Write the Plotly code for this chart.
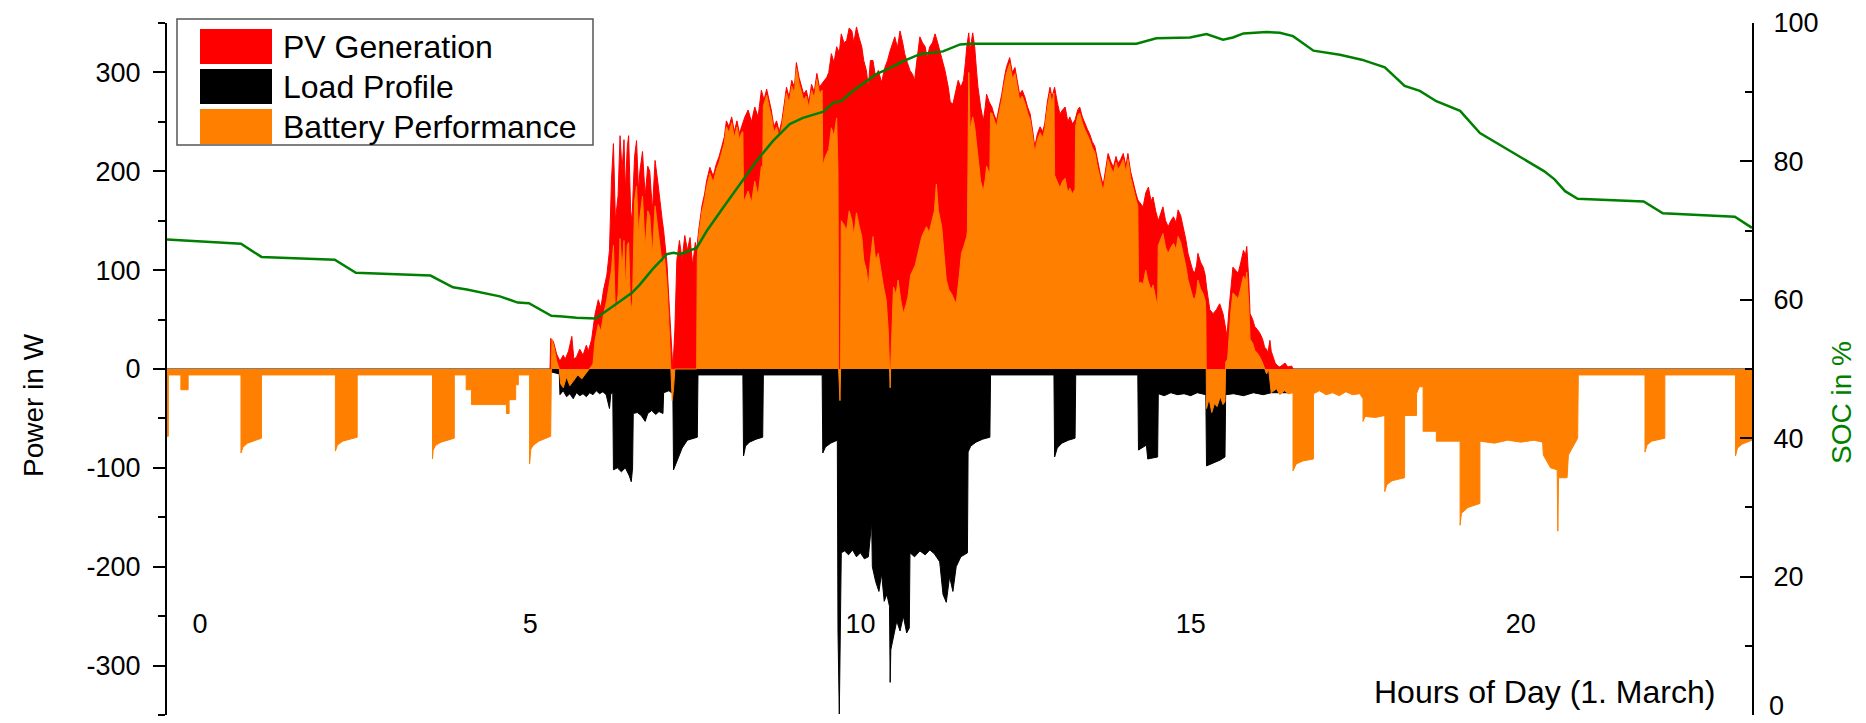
import plotly.graph_objects as go

# ---------------------------------------------------------------------------
# Data: (hour of day, value) samples
# ---------------------------------------------------------------------------
pv_samples = [
    (5.30, 0), (5.31, 31), (5.35, 28), (5.40, 15), (5.45, 8), (5.50, 14), (5.53, 10),
    (5.58, 18), (5.63, 33), (5.66, 10), (5.70, 12), (5.75, 20), (5.80, 14), (5.85, 24),
    (5.88, 18), (5.93, 30), (5.98, 55), (6.03, 70), (6.07, 62), (6.11, 80), (6.16, 95),
    (6.20, 120), (6.23, 191), (6.26, 228), (6.29, 150), (6.33, 175), (6.36, 236),
    (6.39, 200), (6.42, 232), (6.44, 180), (6.47, 225), (6.49, 236), (6.52, 160),
    (6.54, 150), (6.58, 215), (6.61, 231), (6.64, 180), (6.66, 200), (6.70, 220),
    (6.74, 175), (6.78, 205), (6.81, 200), (6.85, 160), (6.89, 211), (6.93, 190),
    (6.96, 170), (7.00, 150), (7.02, 140), (7.07, 107), (7.10, 70), (7.13, 30),
    (7.16, 0), (7.19, 40), (7.22, 110), (7.26, 130), (7.30, 110), (7.34, 135),
    (7.38, 120), (7.42, 133), (7.46, 105), (7.50, 128), (7.52, 120), (7.55, 140),
    (7.60, 165), (7.64, 177), (7.67, 190), (7.72, 204), (7.77, 195), (7.82, 208),
    (7.86, 215), (7.90, 225), (7.94, 235), (7.97, 251), (8.01, 245), (8.05, 255),
    (8.09, 240), (8.13, 251), (8.17, 238), (8.20, 245), (8.25, 255), (8.30, 262),
    (8.35, 250), (8.40, 265), (8.45, 255), (8.50, 282), (8.54, 272), (8.58, 283),
    (8.62, 270), (8.65, 262), (8.69, 245), (8.73, 251), (8.77, 240), (8.81, 251),
    (8.85, 270), (8.88, 285), (8.92, 275), (8.96, 292), (9.00, 285), (9.03, 310),
    (9.07, 295), (9.11, 285), (9.14, 278), (9.18, 282), (9.22, 270), (9.26, 288),
    (9.30, 280), (9.34, 299), (9.38, 285), (9.41, 288), (9.45, 292), (9.49, 295),
    (9.52, 300), (9.56, 319), (9.60, 310), (9.64, 326), (9.68, 320), (9.71, 339),
    (9.75, 330), (9.79, 332), (9.83, 345), (9.87, 342), (9.90, 330), (9.94, 346),
    (9.98, 335), (10.02, 326), (10.05, 312), (10.09, 302), (10.12, 285), (10.15, 312),
    (10.19, 312), (10.23, 295), (10.27, 302), (10.32, 290), (10.37, 305), (10.41, 312),
    (10.45, 322), (10.49, 330), (10.52, 336), (10.56, 325), (10.60, 342), (10.64, 330),
    (10.67, 319), (10.71, 310), (10.75, 302), (10.79, 298), (10.82, 292), (10.86, 315),
    (10.90, 336), (10.94, 330), (10.98, 326), (11.01, 315), (11.05, 326), (11.09, 330),
    (11.13, 339), (11.17, 330), (11.20, 322), (11.24, 310), (11.28, 302), (11.33, 285),
    (11.36, 270), (11.40, 268), (11.44, 280), (11.48, 292), (11.52, 285), (11.56, 292),
    (11.59, 310), (11.61, 326), (11.64, 340), (11.66, 322), (11.70, 340), (11.73, 326),
    (11.76, 300), (11.78, 285), (11.82, 265), (11.86, 251), (11.89, 265), (11.91, 278),
    (11.95, 270), (11.99, 265), (12.02, 258), (12.06, 251), (12.10, 265), (12.14, 278),
    (12.18, 295), (12.21, 305), (12.26, 315), (12.30, 300), (12.34, 305), (12.38, 290),
    (12.41, 278), (12.45, 282), (12.49, 275), (12.53, 265), (12.57, 258), (12.61, 240),
    (12.64, 225), (12.68, 238), (12.72, 245), (12.76, 240), (12.79, 248), (12.83, 270),
    (12.87, 285), (12.90, 275), (12.94, 285), (12.98, 270), (13.02, 258), (13.06, 262),
    (13.10, 265), (13.14, 250), (13.17, 255), (13.21, 248), (13.25, 252), (13.29, 262),
    (13.32, 265), (13.36, 255), (13.40, 248), (13.44, 242), (13.47, 238), (13.51, 230),
    (13.55, 225), (13.59, 210), (13.63, 198), (13.66, 190), (13.68, 188), (13.72, 205),
    (13.75, 218), (13.79, 210), (13.83, 204), (13.87, 215), (13.90, 208), (13.94, 212),
    (13.98, 218), (14.02, 205), (14.05, 218), (14.09, 200), (14.13, 188), (14.17, 178),
    (14.20, 171), (14.24, 168), (14.28, 164), (14.32, 178), (14.36, 184), (14.40, 170),
    (14.43, 174), (14.47, 160), (14.51, 150), (14.55, 158), (14.58, 164), (14.62, 150),
    (14.66, 144), (14.70, 150), (14.74, 154), (14.78, 148), (14.81, 161), (14.85, 155),
    (14.89, 144), (14.93, 130), (14.96, 117), (14.99, 110), (15.03, 100), (15.06, 97),
    (15.09, 105), (15.11, 117), (15.15, 108), (15.19, 103), (15.22, 95), (15.24, 83),
    (15.27, 70), (15.29, 60), (15.34, 56), (15.39, 60), (15.44, 66), (15.49, 56),
    (15.52, 45), (15.55, 33), (15.58, 60), (15.61, 85), (15.64, 103), (15.68, 100),
    (15.72, 97), (15.76, 108), (15.80, 120), (15.83, 115), (15.85, 124), (15.88, 90),
    (15.90, 56), (15.94, 50), (15.97, 43), (16.01, 40), (16.05, 36), (16.09, 30),
    (16.12, 22), (16.15, 20), (16.17, 16), (16.20, 29), (16.22, 18), (16.28, 6),
    (16.32, 3), (16.35, 2), (16.43, 6), (16.47, 2), (16.53, 3), (16.55, 0),
]

load_samples = [
    (5.30, 0), (5.32, -3), (5.44, -5), (5.45, -26), (5.50, -22), (5.55, -28), (5.60, -25),
    (5.65, -30), (5.70, -24), (5.75, -27), (5.80, -25), (5.85, -28), (5.90, -24),
    (5.95, -26), (6.00, -22), (6.05, -25), (6.10, -23), (6.15, -26), (6.20, -40),
    (6.22, -25), (6.25, -24), (6.26, -102), (6.32, -100), (6.38, -104), (6.44, -100),
    (6.50, -108), (6.53, -114), (6.55, -100), (6.56, -45), (6.62, -44), (6.68, -47),
    (6.74, -53), (6.78, -45), (6.84, -42), (6.90, -46), (6.95, -43), (7.01, -45),
    (7.02, -24), (7.10, -22), (7.16, -25), (7.17, -102), (7.22, -94), (7.30, -80),
    (7.38, -72), (7.46, -70), (7.53, -69), (7.54, -6), (8.22, -6), (8.23, -88),
    (8.26, -78), (8.32, -74), (8.42, -71), (8.52, -69), (8.53, -6), (9.42, -6),
    (9.43, -85), (9.47, -79), (9.55, -75), (9.65, -72), (9.66, -265), (9.68, -349),
    (9.70, -265), (9.71, -186), (9.76, -184), (9.82, -188), (9.88, -183), (9.94, -190),
    (10.00, -186), (10.06, -192), (10.12, -190), (10.17, -155), (10.18, -200),
    (10.23, -215), (10.28, -225), (10.32, -207), (10.36, -235), (10.40, -228),
    (10.44, -240), (10.45, -317), (10.46, -284), (10.50, -270), (10.55, -255),
    (10.60, -265), (10.65, -250), (10.70, -267), (10.74, -262), (10.75, -186),
    (10.82, -190), (10.90, -184), (10.98, -188), (11.05, -183), (11.12, -187),
    (11.20, -195), (11.25, -228), (11.30, -236), (11.35, -210), (11.40, -225),
    (11.45, -200), (11.52, -190), (11.58, -188), (11.62, -186), (11.63, -84),
    (11.67, -78), (11.75, -74), (11.85, -71), (11.96, -69), (11.97, -6), (12.93, -6),
    (12.94, -89), (12.98, -80), (13.05, -75), (13.15, -72), (13.25, -70), (13.26, -6),
    (14.20, -6), (14.21, -82), (14.33, -77), (14.35, -91), (14.50, -89), (14.51, -25),
    (14.60, -27), (14.70, -24), (14.80, -26), (14.90, -25), (15.00, -27), (15.10, -24),
    (15.23, -26), (15.24, -98), (15.35, -95), (15.45, -92), (15.52, -89), (15.53, -26),
    (15.65, -25), (15.80, -27), (15.95, -24), (16.10, -26), (16.22, -24), (16.50, -24),
    (16.55, 0),
]

battery_samples = [
    (-0.50, -68), (-0.48, -68), (-0.48, -6), (-0.29, -6), (-0.29, -21), (-0.18, -21),
    (-0.18, -6), (0.62, -6), (0.62, -85), (0.65, -79), (0.72, -75), (0.93, -70),
    (0.93, -6), (2.05, -6), (2.05, -83), (2.08, -77), (2.16, -73), (2.38, -69),
    (2.38, -6), (3.52, -6), (3.52, -91), (3.53, -82), (3.57, -77), (3.65, -74),
    (3.85, -70), (3.85, -6), (4.03, -6), (4.03, -21), (4.11, -21), (4.11, -36),
    (4.64, -36), (4.64, -45), (4.68, -45), (4.68, -31), (4.78, -31), (4.78, -16),
    (4.82, -16), (4.82, -6), (4.99, -6), (4.99, -96), (5.01, -81), (5.05, -77),
    (5.13, -73), (5.31, -68), (5.32, 0), (5.33, 30), (5.36, 22), (5.40, 8), (5.44, 0),
    (5.46, -15), (5.50, -19), (5.55, -8), (5.60, -17), (5.66, -12), (5.72, -6),
    (5.78, -10), (5.85, -4), (5.90, 0), (5.95, 5), (5.98, 28), (6.03, 45), (6.07, 38),
    (6.11, 55), (6.16, 70), (6.20, 85), (6.23, 100), (6.26, 125), (6.29, 55),
    (6.33, 75), (6.36, 132), (6.39, 100), (6.42, 130), (6.44, 80), (6.47, 125),
    (6.49, 128), (6.52, 55), (6.55, 70), (6.58, 170), (6.61, 185), (6.64, 135),
    (6.66, 153), (6.70, 175), (6.74, 122), (6.78, 160), (6.81, 155), (6.85, 115),
    (6.89, 165), (6.93, 145), (6.96, 125), (7.00, 105), (7.03, 115), (7.07, 85),
    (7.10, 45), (7.13, 5), (7.15, -32), (7.17, -20), (7.19, 0), (7.52, 0), (7.53, 112),
    (7.55, 134), (7.60, 159), (7.64, 171), (7.67, 184), (7.72, 198), (7.77, 189),
    (7.82, 202), (7.86, 209), (7.90, 219), (7.94, 229), (7.97, 245), (8.01, 239),
    (8.05, 249), (8.09, 234), (8.13, 245), (8.17, 232), (8.20, 239), (8.22, 240),
    (8.23, 165), (8.25, 172), (8.30, 180), (8.35, 168), (8.40, 190), (8.45, 175),
    (8.50, 205), (8.52, 200), (8.53, 266), (8.58, 277), (8.62, 264), (8.65, 256),
    (8.69, 239), (8.73, 245), (8.77, 234), (8.81, 245), (8.85, 264), (8.88, 279),
    (8.92, 269), (8.96, 286), (9.00, 279), (9.03, 304), (9.07, 289), (9.11, 279),
    (9.14, 272), (9.18, 276), (9.22, 264), (9.26, 282), (9.30, 274), (9.34, 293),
    (9.38, 279), (9.42, 282), (9.43, 205), (9.47, 215), (9.52, 222), (9.56, 244),
    (9.60, 236), (9.64, 254), (9.66, 200), (9.67, 0), (9.69, -32), (9.70, 0),
    (9.71, 150), (9.75, 146), (9.79, 140), (9.83, 160), (9.87, 150), (9.90, 135),
    (9.94, 158), (9.98, 145), (10.02, 134), (10.05, 110), (10.09, 100), (10.12, 83),
    (10.15, 110), (10.19, 134), (10.23, 110), (10.27, 117), (10.32, 95), (10.35, 83),
    (10.39, 70), (10.42, 40), (10.44, 2), (10.45, -19), (10.46, 5), (10.50, 83),
    (10.54, 75), (10.57, 90), (10.61, 70), (10.65, 56), (10.69, 65), (10.72, 73),
    (10.76, 95), (10.80, 100), (10.83, 105), (10.87, 117), (10.90, 125), (10.93, 134),
    (10.97, 140), (11.00, 144), (11.04, 138), (11.08, 150), (11.12, 160), (11.15, 187),
    (11.18, 160), (11.23, 144), (11.27, 110), (11.30, 90), (11.34, 80), (11.38, 76),
    (11.42, 70), (11.45, 66), (11.49, 90), (11.53, 117), (11.57, 125), (11.61, 134),
    (11.62, 140), (11.63, 250), (11.64, 300), (11.66, 242), (11.70, 255), (11.73, 245),
    (11.76, 225), (11.78, 210), (11.82, 190), (11.86, 180), (11.89, 192), (11.91, 205),
    (11.95, 198), (11.96, 200), (11.97, 259), (11.99, 259), (12.02, 252), (12.06, 245),
    (12.10, 259), (12.14, 272), (12.18, 289), (12.21, 299), (12.26, 309), (12.30, 294),
    (12.34, 299), (12.38, 284), (12.41, 272), (12.45, 276), (12.49, 269), (12.53, 259),
    (12.57, 252), (12.61, 234), (12.64, 219), (12.68, 232), (12.72, 239), (12.76, 234),
    (12.79, 242), (12.83, 264), (12.87, 279), (12.90, 269), (12.93, 279), (12.94, 196),
    (12.98, 190), (13.02, 183), (13.06, 190), (13.10, 193), (13.14, 178), (13.17, 183),
    (13.21, 177), (13.25, 182), (13.26, 246), (13.29, 256), (13.32, 259), (13.36, 249),
    (13.40, 242), (13.44, 236), (13.47, 232), (13.51, 224), (13.55, 219), (13.59, 204),
    (13.63, 192), (13.66, 184), (13.68, 182), (13.72, 199), (13.75, 212), (13.79, 204),
    (13.83, 198), (13.87, 209), (13.90, 202), (13.94, 206), (13.98, 212), (14.02, 199),
    (14.05, 212), (14.09, 194), (14.13, 182), (14.17, 172), (14.20, 165), (14.21, 86),
    (14.24, 88), (14.28, 86), (14.32, 100), (14.35, 90), (14.40, 80), (14.43, 85),
    (14.47, 72), (14.50, 62), (14.51, 125), (14.55, 131), (14.58, 137), (14.62, 123),
    (14.66, 117), (14.70, 123), (14.74, 127), (14.78, 121), (14.81, 134), (14.85, 128),
    (14.89, 117), (14.93, 103), (14.96, 90), (14.99, 83), (15.03, 73), (15.06, 70),
    (15.09, 78), (15.11, 90), (15.15, 81), (15.19, 76), (15.22, 69), (15.23, 57),
    (15.24, -40), (15.28, -30), (15.32, -44), (15.36, -35), (15.40, -38), (15.45, -28),
    (15.49, -36), (15.52, -33), (15.53, 7), (15.56, 10), (15.58, 34), (15.61, 59),
    (15.64, 77), (15.68, 74), (15.72, 71), (15.76, 82), (15.80, 94), (15.83, 89),
    (15.85, 98), (15.88, 64), (15.90, 30), (15.94, 26), (15.97, 19), (16.01, 16),
    (16.05, 12), (16.09, 6), (16.12, 0), (16.15, -5), (16.18, 0), (16.22, -24),
    (16.30, -20), (16.35, -26), (16.42, -22), (16.48, -25), (16.55, -24), (16.55, -103),
    (16.60, -96), (16.70, -93), (16.86, -91), (16.86, -25), (16.95, -22), (17.05, -26),
    (17.15, -24), (17.25, -27), (17.35, -23), (17.45, -26), (17.56, -25), (17.61, -30),
    (17.61, -53), (17.64, -48), (17.80, -49), (17.94, -47), (17.94, -124), (17.97, -117),
    (18.05, -113), (18.24, -110), (18.24, -47), (18.42, -47), (18.42, -25), (18.46, -18),
    (18.52, -18), (18.52, -63), (18.72, -63), (18.72, -73), (19.08, -73), (19.08, -158),
    (19.10, -146), (19.20, -140), (19.38, -136), (19.38, -73), (19.60, -75), (19.80, -72),
    (20.00, -74), (20.20, -72), (20.33, -74), (20.34, -87), (20.45, -100), (20.55, -102),
    (20.56, -164), (20.57, -110), (20.70, -110), (20.72, -87), (20.86, -70), (20.87, -6),
    (21.88, -6), (21.88, -84), (21.91, -77), (21.98, -73), (22.18, -70), (22.18, -6),
    (23.25, -6), (23.25, -88), (23.28, -80), (23.35, -76), (23.50, -72),
]

soc_samples = [
    (-0.50, 68.7), (-0.12, 68.5), (0.62, 68.1), (0.93, 66.2), (2.04, 65.8), (2.36, 63.9),
    (3.49, 63.5), (3.83, 61.8), (4.04, 61.5), (4.54, 60.5), (4.81, 59.6), (4.98, 59.5),
    (5.32, 57.7), (5.49, 57.6), (5.70, 57.4), (5.99, 57.3), (6.16, 58.4), (6.36, 59.8),
    (6.54, 61.0), (6.66, 62.2), (6.86, 64.5), (7.07, 66.6), (7.17, 66.8), (7.27, 66.6),
    (7.52, 67.5), (7.67, 69.9), (7.92, 73.3), (8.18, 76.7), (8.43, 80.1), (8.68, 83.0),
    (8.93, 85.4), (9.13, 86.3), (9.44, 87.2), (9.59, 88.5), (9.71, 88.7), (9.89, 90.2),
    (10.14, 91.9), (10.24, 92.6), (10.45, 93.5), (10.65, 94.5), (10.90, 95.5),
    (11.25, 95.9), (11.51, 96.9), (11.66, 97.0), (14.18, 97.0), (14.48, 97.8),
    (14.99, 97.9), (15.24, 98.4), (15.49, 97.6), (15.64, 97.9), (15.80, 98.5),
    (16.15, 98.7), (16.35, 98.6), (16.55, 98.1), (16.86, 96.0), (17.26, 95.4),
    (17.59, 94.7), (17.94, 93.6), (18.24, 90.9), (18.47, 90.2), (18.72, 88.7),
    (19.08, 87.3), (19.38, 84.1), (19.83, 81.5), (20.35, 78.6), (20.51, 77.4),
    (20.67, 75.7), (20.86, 74.6), (21.86, 74.2), (22.15, 72.5), (23.24, 72.0),
    (23.50, 70.4),
]

hour_ticks = [0, 5, 10, 15, 20]
power_ticks = [-300, -200, -100, 0, 100, 200, 300]
soc_ticks = [0, 20, 40, 60, 80, 100]

legend_entries = [
    ("PV Generation", "#FF0000"),
    ("Load Profile", "#000000"),
    ("Battery Performance", "#FF8000"),
]


def split(samples):
    return [s[0] for s in samples], [s[1] for s in samples]


FONT = "Liberation Sans, Arial, sans-serif"
W, H = 1866, 723
PLOT_L, PLOT_R, PLOT_T, PLOT_B = 167, 1752, 23, 715


def px_x(x):
    return (x - PLOT_L) / (PLOT_R - PLOT_L)


def px_y(y):
    return (PLOT_B - y) / (PLOT_B - PLOT_T)


fig = go.Figure()

for samples, color, name in [
    (pv_samples, "#FF0000", "PV Generation"),
    (load_samples, "#000000", "Load Profile"),
    (battery_samples, "#FF8000", "Battery Performance"),
]:
    t, v = split(samples)
    fig.add_trace(go.Scatter(
        x=t, y=v, name=name, mode="lines", fill="tozeroy",
        line=dict(color=color, width=1), fillcolor=color,
        showlegend=False, hoverinfo="skip",
    ))

t, v = split(soc_samples)
fig.add_trace(go.Scatter(
    x=t, y=v, name="SOC", mode="lines", yaxis="y2",
    line=dict(color="#008000", width=2.5), showlegend=False,
))

# Legend box drawn by hand (large colour swatches)
shapes = [dict(
    type="rect", xref="paper", yref="paper",
    x0=px_x(177), x1=px_x(593), y0=px_y(145), y1=px_y(19),
    line=dict(color="#555555", width=1.5), fillcolor="white", layer="above",
)]
annotations = []
row_tops = [29, 69, 109]
for (label, color), top in zip(legend_entries, row_tops):
    shapes.append(dict(
        type="rect", xref="paper", yref="paper",
        x0=px_x(200), x1=px_x(272), y0=px_y(top + 35), y1=px_y(top),
        line=dict(width=0), fillcolor=color, layer="above",
    ))
    annotations.append(dict(
        text=label, xref="paper", yref="paper", x=px_x(281), y=px_y(top + 18),
        xanchor="left", yanchor="middle", showarrow=False,
        font=dict(family=FONT, size=32, color="black"),
    ))

annotations += [
    dict(text="Power in W", xref="paper", yref="paper", x=px_x(33), y=px_y(405),
         textangle=-90, showarrow=False, xanchor="center", yanchor="middle",
         font=dict(family=FONT, size=28, color="black")),
    dict(text="SOC in %", xref="paper", yref="paper", x=px_x(1841), y=px_y(403),
         textangle=-90, showarrow=False, xanchor="center", yanchor="middle",
         font=dict(family=FONT, size=28, color="#008000")),
    dict(text="Hours of Day (1. March)", xref="paper", yref="paper", x=px_x(1717),
         y=px_y(692), showarrow=False, xanchor="right", yanchor="middle",
         font=dict(family=FONT, size=32, color="black")),
    # bottom label of the SOC axis, kept inside the page at the lower plot edge
    dict(text=str(soc_ticks[0]), xref="paper", yref="paper", x=px_x(1767),
         y=px_y(H), xanchor="left", yanchor="bottom", showarrow=False,
         font=dict(family=FONT, size=27, color="black")),
]

fig.update_layout(
    width=W, height=H, autosize=False,
    margin=dict(l=PLOT_L, r=W - PLOT_R, t=PLOT_T, b=H - PLOT_B, pad=0, autoexpand=False),
    paper_bgcolor="white", plot_bgcolor="white",
    font=dict(family=FONT, size=27, color="black"),
    shapes=shapes, annotations=annotations, showlegend=False,
    xaxis=dict(
        range=[-0.5, 23.5], tickvals=hour_ticks, ticks="", showline=False,
        showgrid=False, zeroline=False, anchor="free", position=0.159,
        tickfont=dict(family=FONT, size=27, color="black"), automargin=False,
    ),
    yaxis=dict(
        range=[-350, 350], tickvals=power_ticks,
        ticktext=[str(v) for v in power_ticks],
        ticks="outside", ticklen=12,
        tickwidth=2, tickcolor="black", showline=True, linewidth=2, linecolor="black",
        showgrid=False, zeroline=True, zerolinecolor="#808080", zerolinewidth=1.5,
        minor=dict(dtick=50, tick0=0, ticks="outside", ticklen=7, tickwidth=2,
                   tickcolor="black", showgrid=False),
        tickfont=dict(family=FONT, size=27, color="black"), ticklabelstandoff=7,
        automargin=False,
    ),
    yaxis2=dict(
        range=[0, 100], overlaying="y", side="right", tickvals=soc_ticks[1:],
        ticks="inside", ticklen=12, tickwidth=2, tickcolor="black", showline=True,
        linewidth=2, linecolor="black", showgrid=False, zeroline=False,
        minor=dict(dtick=10, tick0=0, ticks="inside", ticklen=7, tickwidth=2,
                   tickcolor="black", showgrid=False),
        tickfont=dict(family=FONT, size=27, color="black"), ticklabelstandoff=14,
        automargin=False,
    ),
)

fig.write_html("out.html")
